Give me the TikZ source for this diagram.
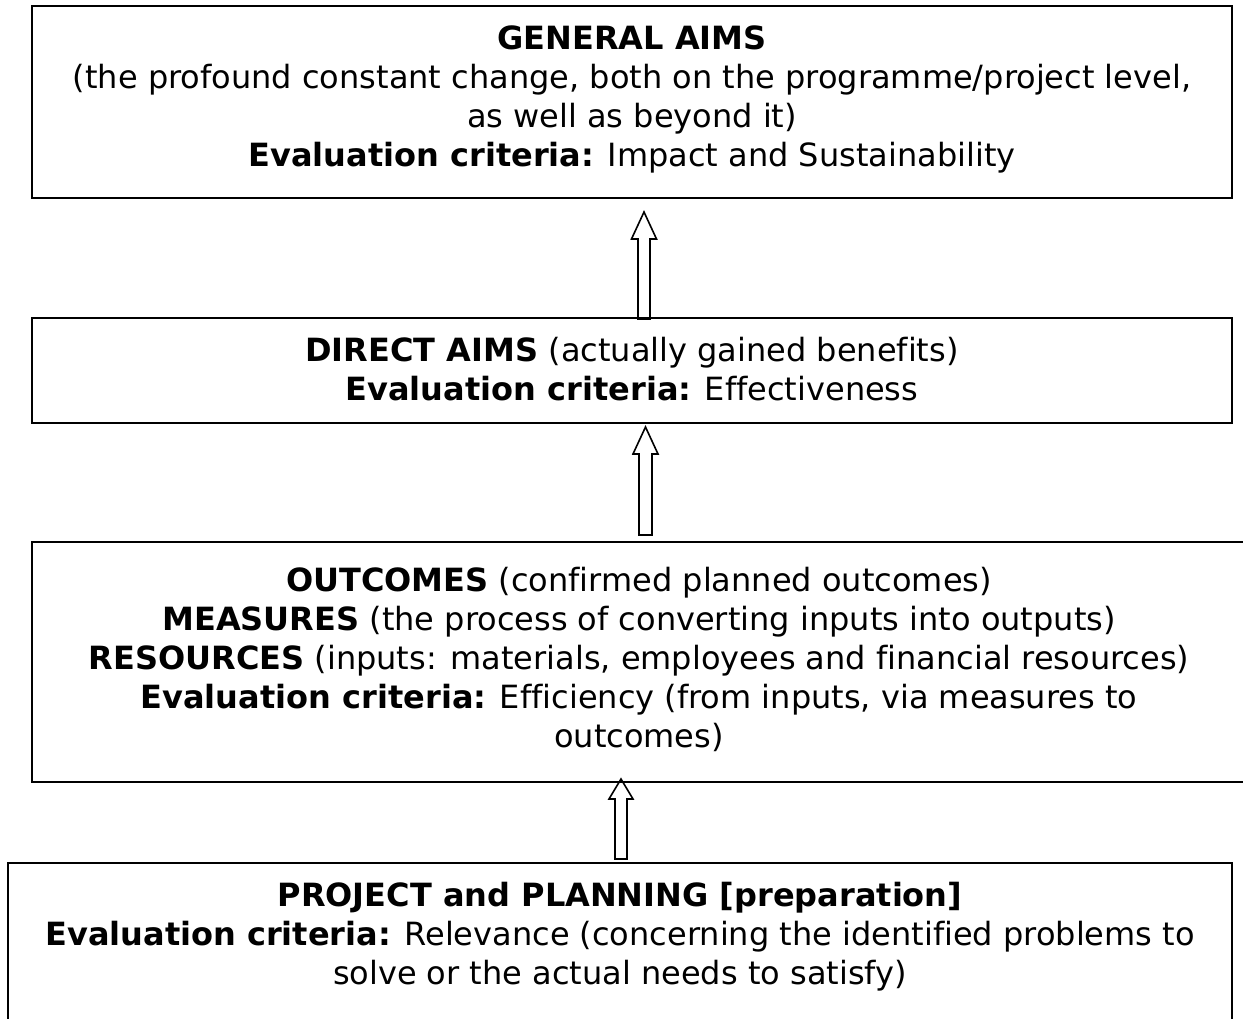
\documentclass[tikz,border=0pt]{standalone}
\usepackage{fontspec}
\setmainfont{DejaVu Sans}[Ligatures=NoCommon]
\begin{document}
\begin{tikzpicture}[x=1pt,y=-1pt,
  frame/.style={draw=black, line width=2pt, rectangle, inner sep=0pt},
  txt/.style={align=center, inner sep=0pt, font=\fontsize{32}{39}\selectfont},
  blockarrow/.style={draw=black, line width=1.6pt, fill=white, line join=miter}
]
\clip (0,0) rectangle (1243,1019);
\fill[white] (0,0) rectangle (1243,1019);

% hollow upward block arrows (drawn first, frames go on top)
\coordinate (a1) at (644,319);
\coordinate (a2) at (645.5,535);
\coordinate (a3) at (621,859);
\draw[blockarrow] (a1) ++(-6,0) -- ++(0,-80) -- ++(-6.5,0) -- ++(12.5,-27)
  -- ++(12.5,27) -- ++(-6.5,0) -- ++(0,80) -- cycle;
\draw[blockarrow] (a2) ++(-6.5,0) -- ++(0,-81) -- ++(-6,0) -- ++(12.5,-27)
  -- ++(12.5,27) -- ++(-6,0) -- ++(0,81) -- cycle;
\draw[blockarrow] (a3) ++(-6,0) -- ++(0,-60) -- ++(-6,0) -- ++(12,-20)
  -- ++(12,20) -- ++(-6,0) -- ++(0,60) -- cycle;

% frames
\node[frame, minimum width=1200pt, minimum height=192pt] (b1) at (632,102) {};
\node[frame, minimum width=1200pt, minimum height=105pt] (b2) at (632,370.5) {};
\node[frame, minimum width=1214pt, minimum height=240pt] (b3) at (639,662) {};
\node[frame, minimum width=1224pt, minimum height=177pt] (b4) at (620,951.5) {};

% texts
\node[txt] (t1) at (632,99) {\textbf{GENERAL AIMS}\\
  (the profound constant change, both on the programme/project level,\\
  as well as beyond it)\\
  \textbf{Evaluation criteria:} Impact and Sustainability};
\node[txt] (t2) at (632,369) {\textbf{DIRECT AIMS} (actually gained benefits)\\
  \textbf{Evaluation criteria:} Effectiveness};
\node[txt] (t3) at (639,659) {\textbf{OUTCOMES} (confirmed planned outcomes)\\
  \textbf{MEASURES} (the process of converting inputs into outputs)\\
  \textbf{RESOURCES} (inputs: materials, employees and financial resources)\\
  \textbf{Evaluation criteria:} Efficiency (from inputs, via measures to\\
  outcomes)};
\node[txt] (t4) at (620,937) {\textbf{PROJECT and PLANNING [preparation]}\\
  \textbf{Evaluation criteria:} Relevance (concerning the identified problems to\\
  solve or the actual needs to satisfy)};
\end{tikzpicture}
\end{document}
